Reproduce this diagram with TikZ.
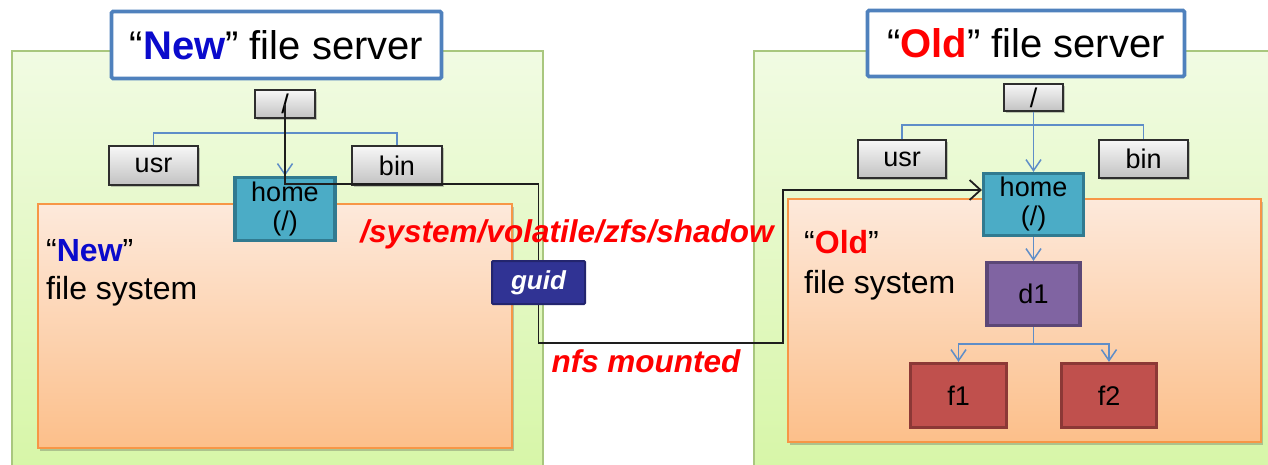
\documentclass[tikz,border=0pt]{standalone}
\usepackage{fontspec}
\setmainfont{Liberation Sans}
\usetikzlibrary{arrows.meta,shadows,calc}

\definecolor{panelTop}{HTML}{F1FBE3}
\definecolor{panelBot}{HTML}{D7F6A8}
\definecolor{panelLine}{HTML}{A9C77E}
\definecolor{fsTop}{HTML}{FDE9DB}
\definecolor{fsBot}{HTML}{FCBF8A}
\definecolor{fsLine}{HTML}{F79646}
\definecolor{titleLine}{HTML}{4F81BD}
\definecolor{homeFill}{HTML}{4BACC6}
\definecolor{homeLine}{HTML}{317A90}
\definecolor{dirFill}{HTML}{8064A2}
\definecolor{dirLine}{HTML}{5C4776}
\definecolor{fileFill}{HTML}{C0504D}
\definecolor{fileLine}{HTML}{8C3836}
\definecolor{guidFill}{HTML}{303394}
\definecolor{guidLine}{HTML}{23256E}
\definecolor{treeLine}{HTML}{5E8DC8}
\definecolor{newBlue}{HTML}{0A0ACC}
\definecolor{oldRed}{HTML}{FF0000}
\definecolor{linkLine}{HTML}{1E1E1E}

\tikzset{
  panel/.style={draw=panelLine, line width=1.2pt, top color=panelTop, bottom color=panelBot},
  fsarea/.style={draw=fsLine, line width=1.2pt, top color=fsTop, bottom color=fsBot,
    drop shadow={shadow xshift=2pt, shadow yshift=-3pt, opacity=0.3, fill=black!70}},
  titlebox/.style={draw=titleLine, line width=3.8pt, fill=white, inner sep=0pt,
    rounded corners=1.5pt, font=\fontsize{40}{46}\selectfont},
  graybox/.style={draw=black!82, line width=1.3pt, top color=white!97!black, bottom color=black!24,
    inner sep=0pt, font=\fontsize{27}{30}\selectfont,
    drop shadow={shadow xshift=1.5pt, shadow yshift=-2pt, opacity=0.3, fill=black!70}},
  colbox/.style={line width=3.2pt, inner sep=0pt, align=center, font=\fontsize{27}{29}\selectfont},
  homebox/.style={colbox, draw=homeLine, fill=homeFill},
  dirbox/.style={colbox, draw=dirLine, fill=dirFill},
  filebox/.style={colbox, draw=fileLine, fill=fileFill},
  guidbox/.style={draw=guidLine, line width=2pt, fill=guidFill, inner sep=0pt, rounded corners=1pt,
    text=white, font=\fontsize{26}{30}\selectfont\bfseries\itshape},
  tree/.style={draw=treeLine, line width=1.5pt},
  treearrow/.style={tree, -{Straight Barb[length=11pt,width=15pt,line width=1.5pt]}},
  link/.style={draw=linkLine, line width=1.8pt},
  linkarrow/.style={link, -{Straight Barb[length=11pt,width=20pt,line width=1.8pt]}},
  fslabel/.style={anchor=base west, inner sep=0pt, font=\fontsize{32}{38}\selectfont},
  redlabel/.style={anchor=base, inner sep=0pt, text=oldRed, font=\fontsize{31.5}{36}\selectfont\bfseries\itshape},
}

\begin{document}
\begin{tikzpicture}[x=1pt,y=-1pt]
\useasboundingbox (0,0) rectangle (1268,464);
\fill[white] (0,0) rectangle (1268,464);

% server panels
\path[panel] (12,51) rectangle (543,466);
\path[panel] (754,51) rectangle (1275,466);

% server titles
\node[titlebox, minimum width=330pt, minimum height=67pt] (newtitle) at (276.5,45)
  {“\textcolor{newBlue}{\bfseries New}” file server};
\node[titlebox, minimum width=317pt, minimum height=66pt] (oldtitle) at (1026,43.5)
  {“\textcolor{oldRed}{\bfseries Old}” file server};

% file system areas
\path[fsarea] (38,204) rectangle (512,448);
\path[fsarea] (788,199) rectangle (1261,442);

\node[fslabel] (newfsA) at (46,261) {“\textcolor{newBlue}{\bfseries New}”};
\node[fslabel] (newfsB) at (46,299) {file system};
\node[fslabel] (oldfsA) at (804,253) {“\textcolor{oldRed}{\bfseries Old}”};
\node[fslabel] (oldfsB) at (804,293) {file system};

% directory tree of the new server
\node[graybox, minimum width=60pt, minimum height=28pt] (nslash) at (285,104) {/};
\node[graybox, minimum width=89pt, minimum height=39pt] (nusr) at (153.5,165.5) {usr};
\node[graybox, minimum width=90pt, minimum height=39pt] (nbin) at (397,165.5) {bin};
\coordinate (nfork) at (285,133);
\draw[tree] (nslash.south) -- (nfork);
\draw[tree] (nusr.north) |- (nfork) -| (nbin.north);
\node[homebox, minimum width=100pt, minimum height=63pt] (nhome) at (285,209) {home\\(/)};
\draw[treearrow] (nfork) -- (nhome.north);

% directory tree of the old server
\node[graybox, minimum width=59pt, minimum height=27pt] (oslash) at (1033.5,97.5) {/};
\node[graybox, minimum width=88pt, minimum height=38pt] (ousr) at (902,159) {usr};
\node[graybox, minimum width=89pt, minimum height=38pt] (obin) at (1143.5,159) {bin};
\coordinate (ofork) at (1033.5,125);
\draw[tree] (oslash.south) -- (ofork);
\draw[tree] (ousr.north) |- (ofork) -| (obin.north);
\node[homebox, minimum width=100pt, minimum height=62pt] (ohome) at (1033.5,204.5) {home\\(/)};
\draw[treearrow] (ofork) -- (ohome.north);
\node[dirbox, minimum width=93pt, minimum height=63pt] (od1) at (1033.5,294) {d1};
\draw[treearrow] (ohome.south) -- (od1.north);
\node[filebox, minimum width=96pt, minimum height=64pt] (of1) at (958.5,395.5) {f1};
\node[filebox, minimum width=95pt, minimum height=64pt] (of2) at (1109,395.5) {f2};
\coordinate (dfork) at (1033.5,344);
\draw[tree] (od1.south) -- (dfork);
\draw[treearrow] (dfork) -| (of1.north);
\draw[treearrow] (dfork) -| (of2.north);

% shadow mount: new root -> guid -> old home
\node[guidbox, minimum width=93pt, minimum height=43pt] (guid) at (538.5,282.5) {guid};
\coordinate (topbend) at (285,184);
\coordinate (bendA) at (538.5,343);
\coordinate (bendB) at (783,343);
\coordinate (bendC) at (783,190);
\draw[link] (nslash.center) -- (topbend) -- (topbend -| guid.north) -- (guid.north);
\draw[linkarrow] (guid.south) -- (bendA) -- (bendB) -- (bendC) -- (bendC -| ohome.west);

% labels of the mount
\node[redlabel] (mountpath) at (567,242) {/system/volatile/zfs/shadow};
\node[redlabel] (mountkind) at (646,372) {nfs mounted};
\end{tikzpicture}
\end{document}
